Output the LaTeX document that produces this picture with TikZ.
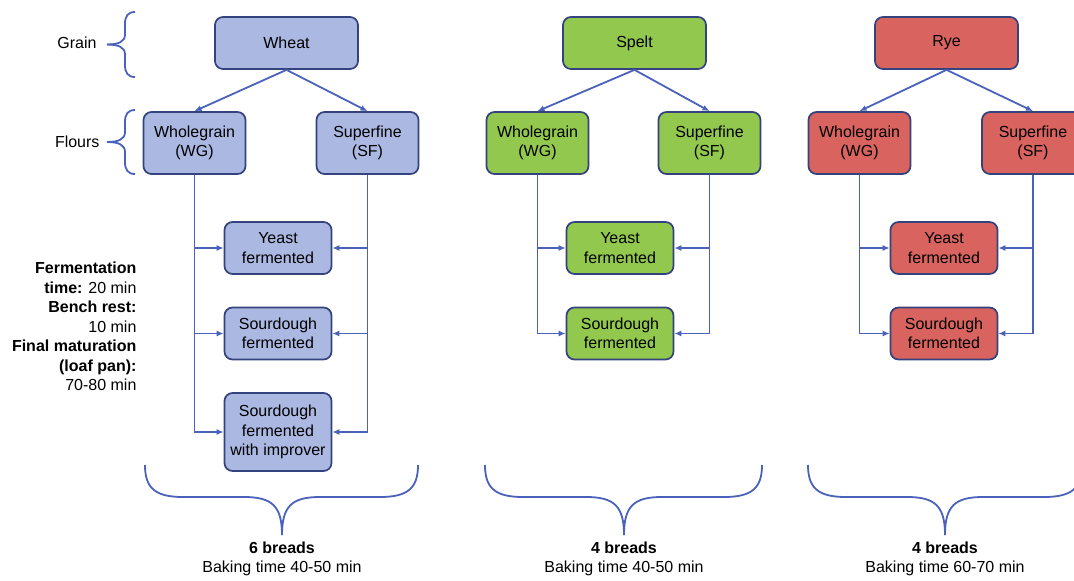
\documentclass[tikz,border=0pt]{standalone}
\usepackage{fontspec}
\setmainfont{Liberation Sans}
\usetikzlibrary{arrows.meta}

\definecolor{wheatfill}{HTML}{AAB8E2}
\definecolor{speltfill}{HTML}{92C84E}
\definecolor{ryefill}{HTML}{D8635F}
\definecolor{boxline}{HTML}{34427E}
\definecolor{linkblue}{HTML}{4A62BC}

\tikzset{
  grainbox/.style={draw=boxline, line width=1.7pt, rounded corners=8pt, align=center, inner sep=0pt},
  topbox/.style={grainbox, minimum width=143pt, minimum height=52pt},
  flourbox/.style={grainbox, minimum width=102pt, minimum height=62pt},
  fermbox/.style={grainbox, minimum width=107pt, minimum height=52pt},
  link/.style={linkblue, line width=1.8pt, ->, >={Latex[length=7pt,width=6pt]}},
  bar/.style={linkblue, line width=1.8pt},
}

\begin{document}
\begin{tikzpicture}[x=1pt,y=-1pt,font=\fontsize{16}{19.5}\selectfont]
\useasboundingbox (0,0) rectangle (1074,581);
\clip (0,0) rectangle (1074,581);

% Wheat
\node[topbox, fill=wheatfill] (grainW) at (286.5,43) {Wheat};
\node[flourbox, fill=wheatfill] (wgW) at (194.5,143) {Wholegrain\\(WG)};
\node[flourbox, fill=wheatfill] (sfW) at (367.5,143) {Superfine\\(SF)};
\node[fermbox, fill=wheatfill] (yeastW) at (278,248) {Yeast\\fermented};
\node[fermbox, fill=wheatfill] (sourW) at (278,333.5) {Sourdough\\fermented};
\node[fermbox, fill=wheatfill, minimum height=78pt] (impW) at (278,432) {Sourdough\\fermented\\with improver};

% Spelt
\node[topbox, fill=speltfill] (grainS) at (634.5,43) {Spelt};
\node[flourbox, fill=speltfill] (wgS) at (537.5,143) {Wholegrain\\(WG)};
\node[flourbox, fill=speltfill] (sfS) at (709.5,143) {Superfine\\(SF)};
\node[fermbox, fill=speltfill] (yeastS) at (620,248) {Yeast\\fermented};
\node[fermbox, fill=speltfill] (sourS) at (620,333.5) {Sourdough\\fermented};

% Rye
\node[topbox, fill=ryefill] (grainR) at (946.5,43) {Rye};
\node[flourbox, fill=ryefill] (wgR) at (859.5,143) {Wholegrain\\(WG)};
\node[flourbox, fill=ryefill] (sfR) at (1033,143) {Superfine\\(SF)};
\node[fermbox, fill=ryefill] (yeastR) at (944,248) {Yeast\\fermented};
\node[fermbox, fill=ryefill] (sourR) at (944,333.5) {Sourdough\\fermented};

\foreach \g/\last in {W/impW, S/sourS, R/sourR} {
  \draw[link] (grain\g.south) -- (wg\g.north);
  \draw[link] (grain\g.south) -- (sf\g.north);
  \draw[link] (wg\g.south) |- (\last.west);
  \draw[link] (sf\g.south) |- (\last.east);
  \draw[link] (wg\g.south |- yeast\g.west) -- (yeast\g.west);
  \draw[link] (sf\g.south |- yeast\g.east) -- (yeast\g.east);
}
\draw[link] (wgW.south |- sourW.west) -- (sourW.west);
\draw[link] (sfW.south |- sourW.east) -- (sourW.east);

% Accolades a gauche
\node[anchor=east] (grainlab) at (100,43) {Grain};
\node[anchor=east] (flourlab) at (103,142) {Flours};
\foreach \t/\m/\b in {12/44.5/77, 110/142/174} {
  \draw[bar] (135,\t) .. controls (128,\t) and (125,\t+4) .. (125,\t+12) -- (125,\m-10)
    .. controls (125,\m-3) and (119,\m) .. (107,\m);
  \draw[bar] (135,\b) .. controls (128,\b) and (125,\b-4) .. (125,\b-12) -- (125,\m+10)
    .. controls (125,\m+3) and (119,\m) .. (107,\m);
}

\node[anchor=east, align=right] (steps) at (140,326.5)
  {\textbf{Fermentation}\\\textbf{time:} 20 min\\\textbf{Bench rest:}\\10 min\\\textbf{Final maturation}\\\textbf{(loaf pan):}\\70-80 min};

% Accolades en bas
\foreach \l/\m/\r in {145/282/418, 485/624/762, 808/945/1082} {
  \draw[bar] (\l,465) .. controls (\l,488) and (\l+10,497) .. (\l+38,497) -- (\m-38,497)
    .. controls (\m-10,497) and (\m,506) .. (\m,535);
  \draw[bar] (\r,465) .. controls (\r,488) and (\r-10,497) .. (\r-38,497) -- (\m+38,497)
    .. controls (\m+10,497) and (\m,506) .. (\m,535);
}
\node[align=center] (sumW) at (282,559) {\textbf{6 breads}\\Baking time 40-50 min};
\node[align=center] (sumS) at (624,559) {\textbf{4 breads}\\Baking time 40-50 min};
\node[align=center] (sumR) at (945,559) {\textbf{4 breads}\\Baking time 60-70 min};

\end{tikzpicture}
\end{document}
